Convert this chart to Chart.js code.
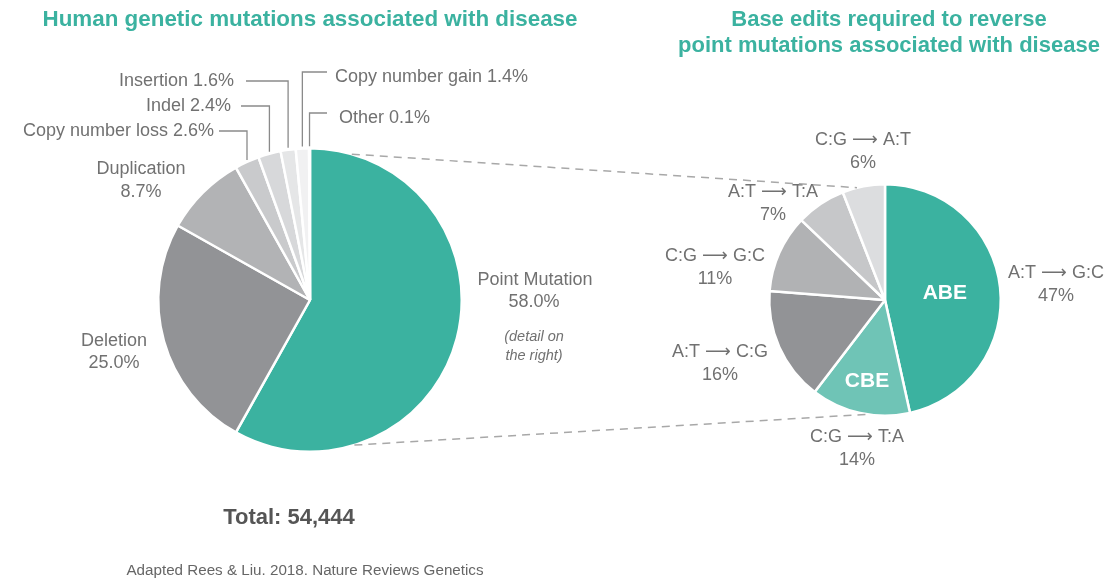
<!DOCTYPE html>
<html>
<head>
<meta charset="utf-8">
<script src="https://cdn.jsdelivr.net/npm/chart.js@4/dist/chart.umd.min.js"></script>
<style>
  body { margin: 0; background: #fff; }
  canvas { position: absolute; left: 0; top: 0; }
</style>
</head>
<body>
<canvas id="leftPie" width="1109" height="580"></canvas>
<canvas id="rightPie" width="1109" height="580"></canvas>
<script>
// left pie: all mutation types
const mutationTypes = ['Point Mutation', 'Deletion', 'Duplication', 'Copy number loss', 'Indel', 'Insertion', 'Copy number gain', 'Other'];
const mutationShare = [58.0, 25.0, 8.7, 2.6, 2.4, 1.6, 1.4, 0.1];
const mutationColors = ['#3bb2a0', '#929396', '#b2b3b5', '#c9cacc', '#d7d8da', '#e5e6e7', '#f1f1f2', '#fafafa'];

// right pie: point mutations by base edit
const editTypes = ['A:T \u27F6 G:C', 'C:G \u27F6 T:A', 'A:T \u27F6 C:G', 'C:G \u27F6 G:C', 'A:T \u27F6 T:A', 'C:G \u27F6 A:T'];
const editShare = [47, 14, 16, 11, 7, 6];
const editors = ['ABE', 'CBE', '', '', '', ''];
const editColors = ['#3bb2a0', '#6fc4b6', '#929396', '#b1b2b4', '#c6c7c9', '#dcdddf'];

const totalCount = '54,444';

const FONT = "'Liberation Sans', Arial, 'DejaVu Sans', sans-serif";
const TEAL = '#3bb2a0';
const GREY = '#717171';
const LABEL = 18;

function txt(ctx, s, x, y, size, opts) {
    opts = opts || {};
    ctx.font = (opts.style || '') + ' ' + (opts.weight || 'normal') + ' ' + size + 'px ' + FONT;
    ctx.fillStyle = opts.color || GREY;
    ctx.textAlign = opts.align || 'center';
    ctx.textBaseline = 'middle';
    ctx.fillText(s, x, y);
}

function rimPoint(arc, angle) {
    return { x: arc.x + arc.outerRadius * Math.cos(angle), y: arc.y + arc.outerRadius * Math.sin(angle) };
}

// small slices labelled with leader lines: [index, text x, text y, line start x, text align]
const leaderLabels = [
    [3, 214, 131, 219, 'right'],
    [4, 231, 106, 241, 'right'],
    [5, 234, 81, 246, 'right'],
    [6, 335, 77, 327, 'left'],
    [7, 339, 118, 327, 'left']
];

const leftText = {
    id: 'leftText',
    afterDraw(chart) {
        const ctx = chart.ctx;
        const arcs = chart.getDatasetMeta(0).data;
        ctx.save();
        txt(ctx, 'Human genetic mutations associated with disease', 310, 20, 22.4, { weight: 'bold', color: TEAL });

        const fmt = i => mutationShare[i].toFixed(1) + '%';
        txt(ctx, mutationTypes[0], 535, 280, LABEL);
        txt(ctx, fmt(0), 534, 302, LABEL);
        txt(ctx, '(detail on', 534, 337, 14.5, { style: 'italic' });
        txt(ctx, 'the right)', 534, 356, 14.5, { style: 'italic' });
        txt(ctx, mutationTypes[1], 114, 341, LABEL);
        txt(ctx, fmt(1), 114, 363, LABEL);
        txt(ctx, mutationTypes[2], 141, 169, LABEL);
        txt(ctx, fmt(2), 141, 192, LABEL);

        ctx.strokeStyle = '#8a8a8a';
        ctx.lineWidth = 1.3;
        leaderLabels.forEach(function(l) {
            const arc = arcs[l[0]];
            const mid = (arc.startAngle + arc.endAngle) / 2;
            const p = rimPoint(arc, mid);
            txt(ctx, mutationTypes[l[0]] + ' ' + fmt(l[0]), l[1], l[2], LABEL, { align: l[4] });
            const lineY = l[4] === 'right' ? l[2] : l[2] - 5;
            ctx.beginPath();
            ctx.moveTo(l[3], lineY);
            ctx.lineTo(p.x, lineY);
            ctx.lineTo(p.x, p.y - 2);
            ctx.stroke();
        });

        txt(ctx, 'Total: ' + totalCount, 289, 518, 22, { weight: 'bold', color: '#555' });
        txt(ctx, 'Adapted Rees & Liu. 2018. Nature Reviews Genetics', 305, 571, 15.2, { color: '#666' });
        ctx.restore();
    }
};

const leftChart = new Chart(document.getElementById('leftPie'), {
    type: 'pie',
    data: {
        labels: mutationTypes,
        datasets: [{
            data: mutationShare,
            backgroundColor: mutationColors,
            borderColor: '#ffffff',
            borderWidth: 2.5
        }]
    },
    options: {
        responsive: false,
        animation: false,
        layout: { padding: { left: 157, right: 646, top: 147, bottom: 127 } },
        plugins: { legend: { display: false }, tooltip: { enabled: false } }
    },
    plugins: [leftText]
});

// outer label positions of the right pie
const editLabelPos = [[1056, 273], [857, 437], [720, 352], [715, 256], [773, 192], [863, 140]];
const editorRadius = [0.52, 0.72];

const rightText = {
    id: 'rightText',
    afterDraw(chart) {
        const ctx = chart.ctx;
        const arcs = chart.getDatasetMeta(0).data;
        ctx.save();
        txt(ctx, 'Base edits required to reverse', 889, 20, 22, { weight: 'bold', color: TEAL });
        txt(ctx, 'point mutations associated with disease', 889, 46, 22, { weight: 'bold', color: TEAL });

        editTypes.forEach(function(t, i) {
            const pos = editLabelPos[i];
            txt(ctx, t, pos[0], pos[1], LABEL);
            txt(ctx, editShare[i] + '%', pos[0], pos[1] + 23, LABEL);
            if (editors[i]) {
                const arc = arcs[i];
                const mid = (arc.startAngle + arc.endAngle) / 2;
                const r = arc.outerRadius * editorRadius[i];
                txt(ctx, editors[i], arc.x + r * Math.cos(mid), arc.y + r * Math.sin(mid), 21, { weight: 'bold', color: '#fff' });
            }
        });

        // dashed zoom lines from the left pie to the right pie
        const la = leftChart.getDatasetMeta(0).data[0];
        const ra = arcs[0];
        const deg = d => (d - 90) * Math.PI / 180;
        const a1 = rimPoint(la, deg(16)), b1 = rimPoint(ra, deg(-14));
        const a2 = rimPoint(la, deg(163)), b2 = rimPoint(ra, deg(189));
        ctx.strokeStyle = '#a8a8a8';
        ctx.lineWidth = 1.5;
        ctx.setLineDash([8, 6]);
        ctx.beginPath();
        ctx.moveTo(a1.x, a1.y); ctx.lineTo(b1.x, b1.y);
        ctx.moveTo(a2.x, a2.y); ctx.lineTo(b2.x, b2.y);
        ctx.stroke();
        ctx.restore();
    }
};

new Chart(document.getElementById('rightPie'), {
    type: 'pie',
    data: {
        labels: editTypes,
        datasets: [{
            data: editShare,
            backgroundColor: editColors,
            borderColor: '#ffffff',
            borderWidth: 2.5
        }]
    },
    options: {
        responsive: false,
        animation: false,
        layout: { padding: { left: 768, right: 107, top: 183, bottom: 163 } },
        plugins: { legend: { display: false }, tooltip: { enabled: false } }
    },
    plugins: [rightText]
});
</script>
</body>
</html>
